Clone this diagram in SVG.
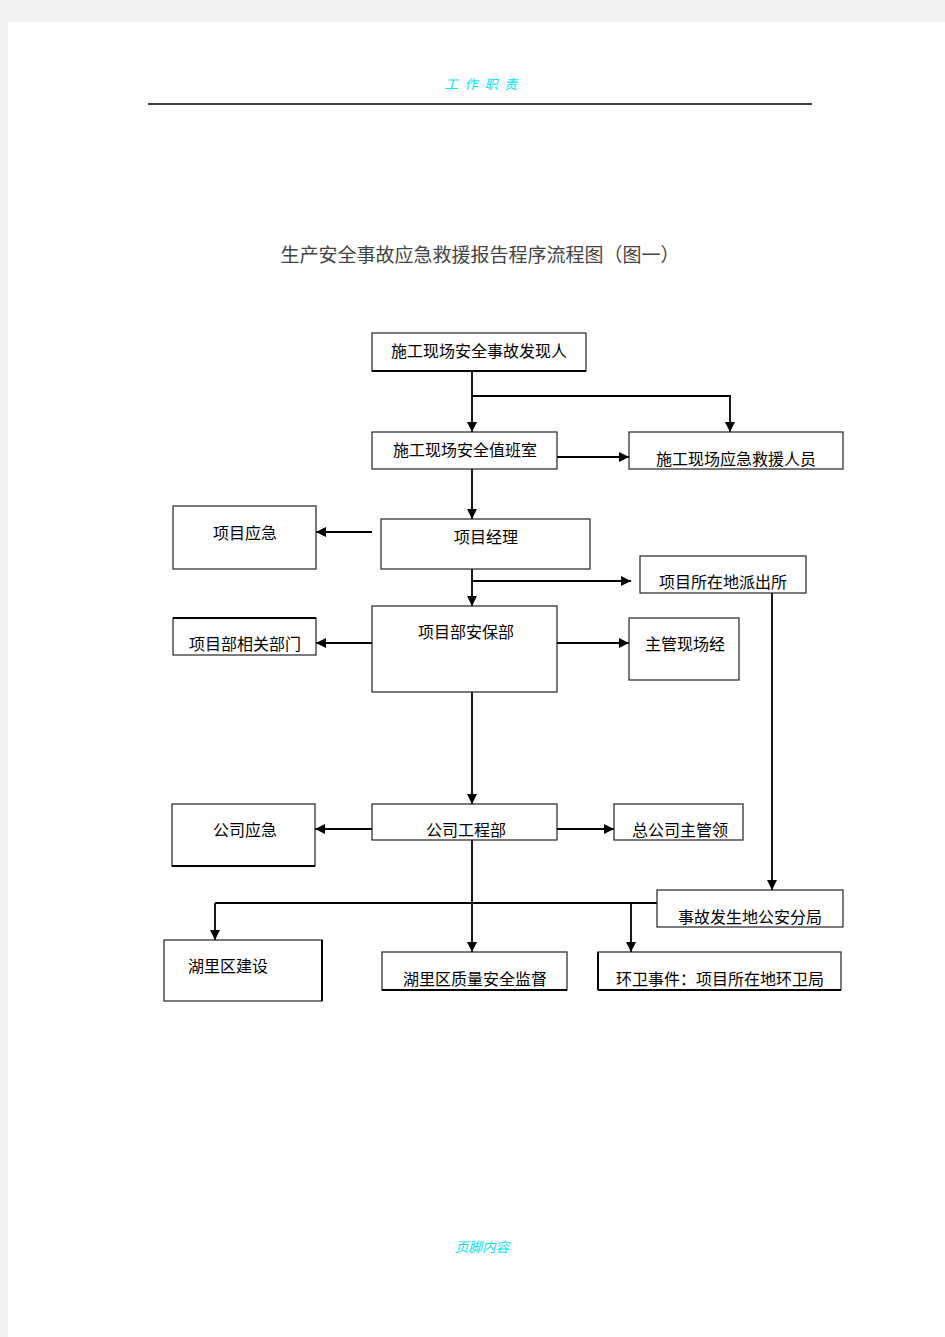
<svg xmlns="http://www.w3.org/2000/svg" width="945" height="1337" viewBox="0 0 945 1337">
<defs>
<marker id="ah" viewBox="0 0 10 10" refX="10" refY="5" markerWidth="10" markerHeight="10" markerUnits="userSpaceOnUse" orient="auto">
<path d="M0,0 L10,5 L0,10 Z" fill="#000"/>
</marker>
<style>
.box{fill:#fff;stroke:#222;stroke-width:1.2}
.t{font-family:"Liberation Sans","Noto Sans CJK SC",sans-serif;font-size:16px;fill:#000;text-anchor:middle}
.c{fill:none;stroke:#000;stroke-width:1.8}
.ca{fill:none;stroke:#000;stroke-width:1.8;marker-end:url(#ah)}
.hd{font-family:"Noto Sans CJK SC",sans-serif;font-style:italic;fill:#00e5ee;text-anchor:middle}
</style>
</defs>
<rect x="0" y="0" width="945" height="1337" fill="#f2f2f2"/>
<rect x="8" y="22" width="937" height="1315" fill="#fff"/>
<text class="hd" x="482" y="89" font-size="13" letter-spacing="2">工 作 职 责</text>
<line x1="148" y1="104" x2="812" y2="104" stroke="#000" stroke-width="1.5"/>
<text x="480" y="262" font-family="'Noto Sans CJK SC',sans-serif" font-size="19" fill="#444" text-anchor="middle">生产安全事故应急救援报告程序流程图（图一）</text>

<g id="connectors">
<line class="ca" x1="472" y1="371" x2="472" y2="432"/>
<polyline class="ca" points="472,396 730,396 730,432"/>
<line class="ca" x1="557" y1="457" x2="629" y2="457"/>
<line class="ca" x1="472" y1="469" x2="472" y2="519"/>
<line class="ca" x1="372" y1="532" x2="316" y2="532"/>
<line class="ca" x1="472" y1="569" x2="472" y2="606"/>
<line class="ca" x1="472" y1="581" x2="631" y2="581"/>
<line class="ca" x1="772" y1="593" x2="772" y2="890"/>
<line class="ca" x1="372" y1="643" x2="316" y2="643"/>
<line class="ca" x1="557" y1="643" x2="629" y2="643"/>
<line class="ca" x1="472" y1="692" x2="472" y2="804"/>
<line class="ca" x1="372" y1="829" x2="315" y2="829"/>
<line class="ca" x1="557" y1="829" x2="614" y2="829"/>
<line class="ca" x1="472" y1="840" x2="472" y2="952"/>
<polyline class="c" points="657,903 215,903" stroke-width="1.2"/>
<line class="ca" x1="215" y1="903" x2="215" y2="940"/>
<line class="ca" x1="631" y1="903" x2="631" y2="952"/>
</g>

<g id="n1"><rect class="box" x="372" y="333" width="214" height="38"/><line x1="372" y1="371" x2="586" y2="371" stroke="#000" stroke-width="2"/><text class="t" x="479" y="357">施工现场安全事故发现人</text></g>
<g id="n2"><rect class="box" x="372" y="432" width="185" height="37"/><text class="t" x="465" y="456">施工现场安全值班室</text></g>
<g id="n3"><rect class="box" x="629" y="432" width="214" height="37"/><text class="t" x="736" y="465">施工现场应急救援人员</text></g>
<g id="n4"><rect class="box" x="173" y="506" width="143" height="63"/><text class="t" x="245" y="539">项目应急</text></g>
<g id="n5"><rect class="box" x="381" y="519" width="209" height="50"/><text class="t" x="486" y="543">项目经理</text></g>
<g id="n6"><rect class="box" x="640" y="556" width="166" height="37"/><text class="t" x="723" y="588">项目所在地派出所</text></g>
<g id="n7"><rect class="box" x="173" y="618" width="143" height="37"/><line x1="173" y1="618" x2="316" y2="618" stroke="#000" stroke-width="2"/><text class="t" x="245" y="650">项目部相关部门</text></g>
<g id="n8"><rect class="box" x="372" y="606" width="185" height="86"/><text class="t" x="466" y="638">项目部安保部</text></g>
<g id="n9"><rect class="box" x="629" y="618" width="110" height="62"/><text class="t" x="685" y="650">主管现场经</text></g>
<g id="n10"><rect class="box" x="172" y="804" width="143" height="62"/><line x1="172" y1="866" x2="315" y2="866" stroke="#000" stroke-width="2"/><text class="t" x="245" y="836">公司应急</text></g>
<g id="n11"><rect class="box" x="372" y="804" width="185" height="36"/><text class="t" x="466" y="836">公司工程部</text></g>
<g id="n12"><rect class="box" x="614" y="804" width="129" height="36"/><text class="t" x="680" y="836">总公司主管领</text></g>
<g id="n13"><rect class="box" x="657" y="890" width="186" height="37"/><text class="t" x="750" y="923">事故发生地公安分局</text></g>
<g id="n14"><rect class="box" x="164" y="940" width="158" height="61"/><line x1="322" y1="940" x2="322" y2="1001" stroke="#000" stroke-width="2"/><text class="t" x="228" y="972">湖里区建设</text></g>
<g id="n15"><rect class="box" x="382" y="952" width="185" height="38"/><line x1="382" y1="990" x2="567" y2="990" stroke="#000" stroke-width="2"/><text class="t" x="475" y="985">湖里区质量安全监督</text></g>
<g id="n16"><rect class="box" x="598" y="952" width="243" height="38"/><line x1="598" y1="952" x2="598" y2="990" stroke="#000" stroke-width="2"/><line x1="598" y1="990" x2="841" y2="990" stroke="#000" stroke-width="2"/><text class="t" x="720" y="985">环卫事件：项目所在地环卫局</text></g>

<text class="hd" x="482" y="1252" font-size="13.5">页脚内容</text>
</svg>
